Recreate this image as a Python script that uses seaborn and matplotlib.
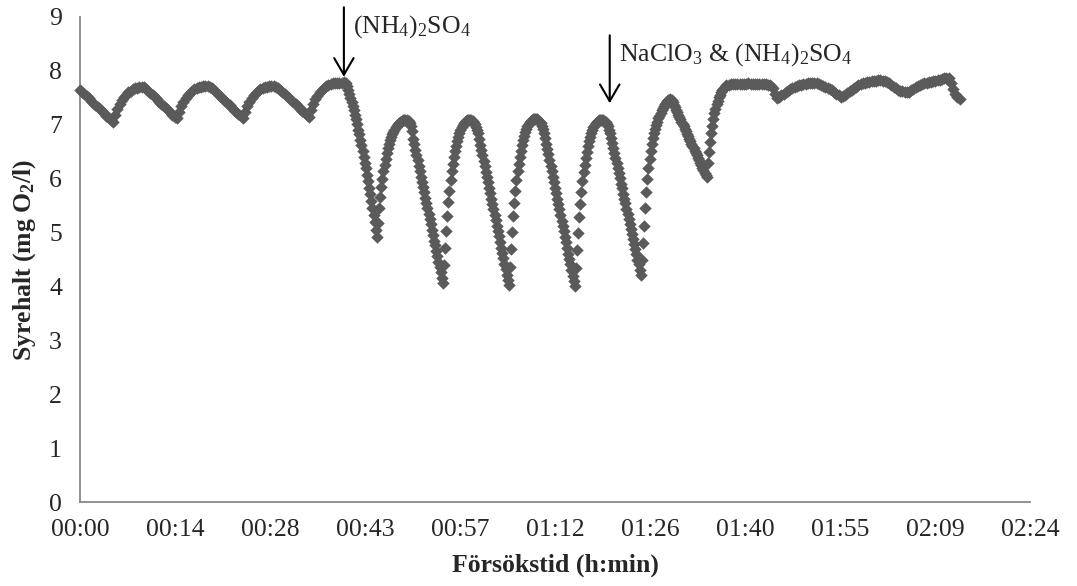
import numpy as np
import pandas as pd
import matplotlib
matplotlib.use("Agg")
import matplotlib.pyplot as plt
import seaborn as sns

# ── data: dissolved oxygen (mg O2/l) ───────────────────────────────────
# baseline before any addition, one reading every 20 s from 00:00
baseline_start_min = 0.0
baseline_step_s = 20
baseline_do = [
    7.65, 7.61, 7.57, 7.53, 7.49, 7.45, 7.41, 7.37, 7.33, 7.29, 7.25, 7.21, 7.17, 7.13, 7.09, 7.05,
    7.18, 7.30, 7.39, 7.46, 7.52, 7.56, 7.60, 7.63, 7.66, 7.68, 7.69, 7.70, 7.70, 7.70,
    7.67, 7.63, 7.59, 7.55, 7.51, 7.47, 7.43, 7.39, 7.35, 7.31, 7.27, 7.23, 7.19, 7.15, 7.12,
    7.24, 7.35, 7.43, 7.50, 7.55, 7.59, 7.63, 7.66, 7.68, 7.70, 7.71, 7.72, 7.72, 7.72, 7.71,
    7.68, 7.64, 7.60, 7.56, 7.52, 7.48, 7.44, 7.40, 7.36, 7.32, 7.28, 7.24, 7.20, 7.16, 7.12,
    7.24, 7.35, 7.43, 7.50, 7.55, 7.59, 7.63, 7.66, 7.68, 7.70, 7.71, 7.72, 7.72, 7.72, 7.71,
    7.68, 7.64, 7.61, 7.57, 7.53, 7.49, 7.46, 7.42, 7.38, 7.34, 7.30, 7.26, 7.23, 7.19, 7.15,
    7.27, 7.38, 7.47, 7.54, 7.60, 7.65, 7.69, 7.72, 7.74, 7.76, 7.77, 7.78, 7.78, 7.78, 7.78, 7.79, 7.78,
]

# after (NH4)2SO4 addition, one reading every 10 s
cycles_start_min = 40.5
cycles_step_s = 10
cycles_do = [
    7.72, 7.65, 7.58, 7.50, 7.43, 7.35, 7.27, 7.18, 7.10, 7.01, 6.91, 6.82, 6.72, 6.62,
    6.51, 6.41, 6.30, 6.19, 6.07, 5.95, 5.83, 5.71, 5.58, 5.45, 5.32, 5.19, 5.05, 4.91,
    5.18, 5.45, 5.66, 5.84, 6.00, 6.14, 6.26, 6.37, 6.47, 6.56, 6.64, 6.71, 6.77, 6.82,
    6.87, 6.91, 6.95, 6.98, 7.01, 7.03, 7.05, 7.06, 7.07, 7.08, 7.08, 7.08, 7.08, 7.07, 7.07,
    7.04, 6.97, 6.89, 6.74, 6.64, 6.54, 6.44, 6.34, 6.24, 6.14, 6.04, 5.94, 5.85, 5.75,
    5.65, 5.55, 5.45, 5.35, 5.25, 5.15, 5.05, 4.95, 4.85, 4.76, 4.66, 4.56, 4.46, 4.36, 4.26, 4.16, 4.06,
    4.39, 4.72, 5.03, 5.31, 5.56, 5.78, 5.98, 6.14, 6.28, 6.40, 6.51, 6.61, 6.70,
    6.78, 6.85, 6.91, 6.96, 7.00, 7.03, 7.05, 7.07, 7.08, 7.08, 7.08, 7.08, 7.08,
    7.07, 7.04, 7.01, 6.96, 6.90, 6.84, 6.73, 6.63, 6.53, 6.43, 6.33, 6.23, 6.13, 6.03, 5.93, 5.83, 5.73,
    5.63, 5.53, 5.43, 5.33, 5.23, 5.13, 5.03, 4.93, 4.83, 4.72, 4.62, 4.52, 4.42, 4.32, 4.22, 4.12, 4.02,
    4.36, 4.70, 5.01, 5.30, 5.55, 5.78, 5.97, 6.14, 6.28, 6.40, 6.52, 6.62, 6.71,
    6.79, 6.87, 6.93, 6.98, 7.02, 7.05, 7.07, 7.09, 7.10, 7.10, 7.10, 7.10, 7.10,
    7.09, 7.06, 7.03, 6.98, 6.92, 6.85, 6.75, 6.65, 6.55, 6.45, 6.34, 6.24, 6.14, 6.04, 5.93, 5.83, 5.73,
    5.63, 5.53, 5.43, 5.32, 5.22, 5.12, 5.02, 4.92, 4.82, 4.71, 4.61, 4.51, 4.41, 4.31, 4.20, 4.10, 4.00,
    4.34, 4.68, 4.99, 5.28, 5.53, 5.76, 5.95, 6.12, 6.26, 6.38, 6.50, 6.60, 6.69,
    6.77, 6.85, 6.91, 6.96, 7.00, 7.03, 7.05, 7.07, 7.08, 7.08, 7.08, 7.08, 7.08,
    7.07, 7.05, 7.01, 6.97, 6.91, 6.85, 6.76, 6.66, 6.57, 6.48, 6.38, 6.29, 6.19, 6.10, 6.01, 5.91, 5.82,
    5.72, 5.63, 5.54, 5.44, 5.35, 5.25, 5.16, 5.07, 4.97, 4.88, 4.78, 4.69, 4.60, 4.50, 4.41, 4.31, 4.22,
    4.50, 4.80, 5.12, 5.45, 5.75, 6.00, 6.20, 6.37, 6.52, 6.65, 6.76, 6.85, 6.93, 7.00,
    7.06, 7.12, 7.17, 7.22, 7.27, 7.31, 7.35, 7.38, 7.41, 7.44, 7.46, 7.46, 7.47, 7.46,
    7.42, 7.37, 7.33, 7.28, 7.24, 7.19, 7.15, 7.10, 7.06, 7.01, 6.97, 6.92, 6.88, 6.83, 6.79, 6.74,
    6.70, 6.65, 6.61, 6.56, 6.52, 6.47, 6.43, 6.38, 6.34, 6.29, 6.25, 6.20, 6.16, 6.11, 6.07, 6.03,
    6.30, 6.50, 6.68, 6.84, 6.98, 7.10, 7.21, 7.30, 7.38, 7.45, 7.51, 7.56, 7.60, 7.64, 7.67, 7.69, 7.71, 7.73,
]

# recovery plateau, one reading every 20 s
recovery_start_min = 98.33
recovery_step_s = 20
recovery_do = [
    7.74, 7.75, 7.75, 7.75, 7.76, 7.76, 7.76, 7.76, 7.76, 7.77, 7.76, 7.76, 7.76, 7.76, 7.76,
    7.75, 7.75, 7.75, 7.74, 7.73, 7.68, 7.58, 7.49, 7.52, 7.55, 7.58, 7.61, 7.63, 7.66, 7.68,
    7.70, 7.72, 7.73, 7.74, 7.75, 7.76, 7.77, 7.77, 7.78, 7.78, 7.77, 7.76, 7.74, 7.72, 7.70,
    7.69, 7.67, 7.64, 7.61, 7.58, 7.55, 7.52, 7.53, 7.56, 7.59, 7.62, 7.65, 7.68, 7.71, 7.74,
    7.76, 7.77, 7.78, 7.79, 7.80, 7.81, 7.82, 7.82, 7.83, 7.83, 7.82, 7.81, 7.79, 7.77, 7.74,
    7.71, 7.68, 7.65, 7.63, 7.62, 7.61, 7.60, 7.61, 7.64, 7.67, 7.70, 7.72, 7.74, 7.76, 7.77,
    7.78, 7.79, 7.80, 7.81, 7.82, 7.83, 7.84, 7.85, 7.86, 7.86, 7.87, 7.78, 7.67, 7.58, 7.51, 7.48,
]

# additions (time in minutes) and their labels
addition_min = [40.0, 80.3]
addition_labels = [r"(NH$_4$)$_2$SO$_4$", r"NaClO$_3$ & (NH$_4$)$_2$SO$_4$"]

# x ticks every 0.01 day (14.4 min), Excel-style h:mm labels
tick_min = [0, 14.4, 28.8, 43.2, 57.6, 72, 86.4, 100.8, 115.2, 129.6, 144]
tick_labels = ["00:00", "00:14", "00:28", "00:43", "00:57", "01:12",
               "01:26", "01:40", "01:55", "02:09", "02:24"]


def _phase(start_min, step_s, values):
    t = start_min + np.arange(len(values)) * step_s / 60.0
    return pd.DataFrame({"minutes": t, "do": values})


df = pd.concat([
    _phase(baseline_start_min, baseline_step_s, baseline_do),
    _phase(cycles_start_min, cycles_step_s, cycles_do),
    _phase(recovery_start_min, recovery_step_s, recovery_do),
], ignore_index=True)

# ── style ──
sns.set_style("white")
plt.rcParams["font.family"] = ["Liberation Serif", "DejaVu Serif"]
plt.rcParams["mathtext.fontset"] = "custom"
plt.rcParams["mathtext.rm"] = "Liberation Serif"
plt.rcParams["mathtext.it"] = "Liberation Serif:italic"
plt.rcParams["mathtext.bf"] = "Liberation Serif:bold"

FS = 18.5
GREY = "#5a5a5a"
AXIS = "#888888"

fig = plt.figure(figsize=(10.77, 5.86), dpi=100)
ax = fig.add_axes([0.0743, 0.1433, 0.882, 0.8277])

sns.scatterplot(data=df, x="minutes", y="do", marker="D", s=40, color=GREY,
                linewidth=0, ax=ax, clip_on=False, zorder=3)

ax.set_xlim(0, 144)
ax.set_ylim(0, 9)
ax.set_yticks(range(0, 10))
ax.set_xticks(tick_min)
ax.set_xticklabels(tick_labels)
ax.tick_params(axis="y", direction="out", length=7, width=1.2, color=AXIS,
               labelsize=FS, pad=6)
ax.tick_params(axis="x", length=0, labelsize=FS, pad=12)

for side in ("top", "right"):
    ax.spines[side].set_visible(False)
for side in ("left", "bottom"):
    ax.spines[side].set_color(AXIS)
    ax.spines[side].set_linewidth(1.3)

ax.set_xlabel("Försökstid (h:min)", fontsize=FS, fontweight="bold", labelpad=9)
ax.set_ylabel(r"Syrehalt (mg O$_\mathbf{2}$/l)", fontsize=FS, fontweight="bold", labelpad=8)

# ── addition arrows ──
arrow_tips = [7.89, 7.40]
arrow_tails = [9.18, 8.66]
text_y = [8.83, 8.31]
for t, tip, tail, ty, lab in zip(addition_min, arrow_tips, arrow_tails, text_y, addition_labels):
    ax.annotate("", xy=(t, tip), xytext=(t, tail), annotation_clip=False,
                arrowprops=dict(arrowstyle="->,head_length=0.6,head_width=0.35",
                                color="black", lw=1.5, mutation_scale=20,
                                shrinkA=0, shrinkB=0))
    ax.text(t + 1.4, ty, lab, fontsize=FS, va="center", ha="left", clip_on=False)

fig.savefig("out.png", dpi=100)
